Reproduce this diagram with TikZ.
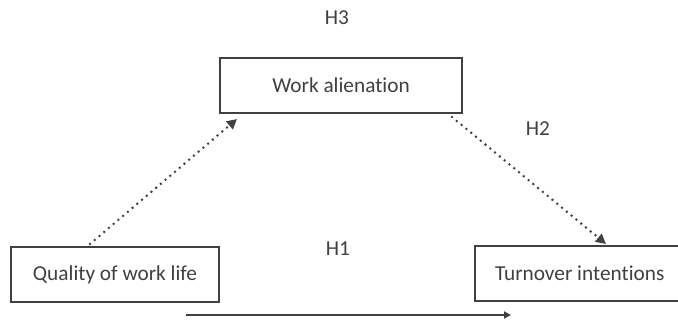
\documentclass[tikz,border=0pt]{standalone}
\usepackage{fontspec}
\setmainfont{Carlito}[RawFeature=-liga]
\usetikzlibrary{arrows.meta}
\definecolor{ink}{HTML}{404040}
\begin{document}
\begin{tikzpicture}[x=1pt,y=-1pt,
  box/.style={draw=ink, line width=1.3pt, minimum height=55pt, inner sep=0pt, text=ink, font=\fontsize{21.3}{25}\selectfont},
  lbl/.style={text=ink, font=\fontsize{21.3}{25}\selectfont, inner sep=0pt},
  dotarrow/.style={draw=ink, line width=2.8pt, line cap=round, dash pattern=on 0pt off 6.2pt, -{Triangle[width=10pt,length=10pt,line cap=butt]}},
  solidarrow/.style={draw=ink, line width=1.8pt, -{Triangle[width=7pt,length=7pt]}}]
\useasboundingbox (0,0) rectangle (678,324);
\clip (0,0) rectangle (678,324);
\node[box, minimum width=208pt] (qwl) at (115,274.5) {Quality of work life};
\node[box, minimum width=242pt] (wa) at (341,85.5) {Work alienation};
% this box runs on past the right edge of the page
\node[box] (ti) at (595,273.5) {\makebox[240pt][l]{\hspace{20pt}Turnover intentions}};
\coordinate (s1) at (90,244);
\coordinate (t1) at (237,119);
\coordinate (s2) at (452,117);
\coordinate (t2) at (606,244);
\draw[dotarrow] (s1) -- (t1);
\draw[dotarrow] (s2) -- (t2);
\coordinate (h0) at (186,315);
\coordinate (h1) at (511,315);
\draw[solidarrow] (h0) -- (h1);
\node[lbl] (hthree) at (337,18) {H3};
\node[lbl] (htwo) at (538,129) {H2};
\node[lbl] (hone) at (338,249) {H1};
\end{tikzpicture}
\end{document}
